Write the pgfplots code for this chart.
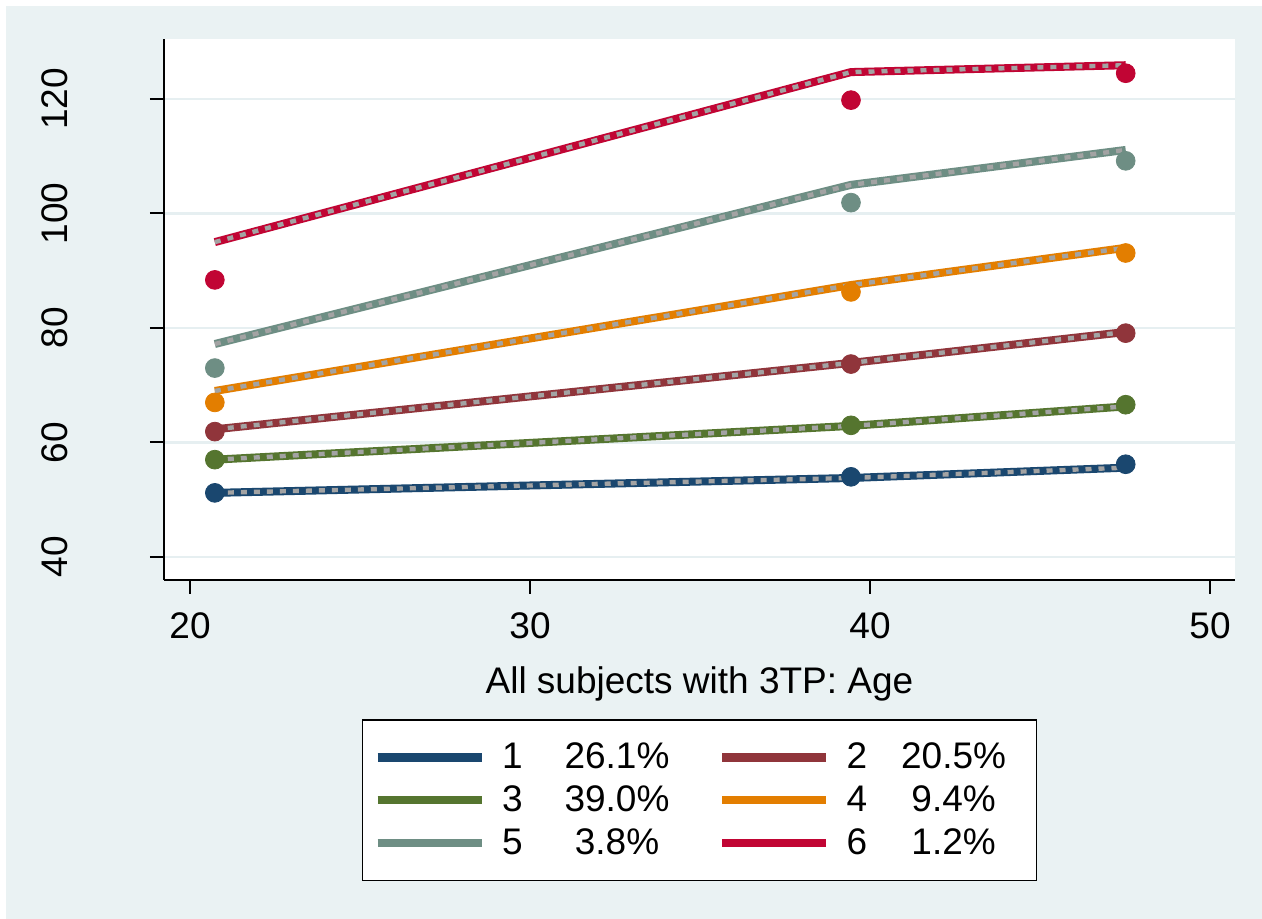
\documentclass[border=0pt]{standalone}
\usepackage{fontspec}
\setmainfont{Liberation Sans}
\usepackage{pgfplots}
\pgfplotsset{compat=1.18}
\definecolor{bgblue}{HTML}{EAF2F3}
\definecolor{gridc}{HTML}{E6EFF1}
\definecolor{cnavy}{HTML}{1A476F}
\definecolor{cmaroon}{HTML}{90353B}
\definecolor{cgreen}{HTML}{55752F}
\definecolor{corange}{HTML}{E37E00}
\definecolor{cteal}{HTML}{6E8E84}
\definecolor{cred}{HTML}{C10534}
\definecolor{dashgray}{HTML}{A3A3A3}
\newcommand{\bigf}{\fontsize{18.5}{22}\selectfont}
\newcommand{\ent}[4]{\makebox[#3][l]{#1}\makebox[#4][c]{#2}}
\begin{document}
\begin{tikzpicture}
\fill[white] (-82pt,-169.5pt) rectangle (549pt,290pt);
\fill[bgblue] (-79pt,-169.5pt) rectangle (549pt,287pt);
\begin{axis}[
  at={(0,0)}, anchor=south west,
  scale only axis, width=535.5pt, height=270.5pt,
  xmin=19.235, xmax=50.735, ymin=35.98, ymax=130.48,
  xtick={20,30,40,50}, ytick={40,60,80,100,120},
  axis x line*=bottom, axis y line*=left,
  axis line style={line width=1pt, black},
  tick align=outside, major tick length=7pt,
  tick style={line width=1pt, black},
  axis background/.style={fill=white},
  ymajorgrids, y grid style={gridc, line width=1.3pt},
  /pgf/number format/assume math mode=true,
  ticklabel style={font=\bigf},
  yticklabel style={rotate=90, anchor=south, yshift=37.5pt},
  xticklabel style={yshift=-6pt},
  xlabel={All subjects with 3TP: Age},
  xlabel style={font=\bigf, at={(axis description cs:0.5,0)}, anchor=north, yshift=-40pt},
  legend columns=2,
  legend cell align=left,
  legend image code/.code={\draw[#1, line width=4.3pt] (0pt,0pt) -- (52pt,0pt);},
  legend style={at={(0.5,-0.257)}, anchor=north, font=\bigf,
    draw=black, line width=0.8pt, fill=white,
    inner xsep=5.5pt, inner ysep=9pt,
    row sep=2pt,
    /tikz/every odd column/.append style={column sep=5.5pt},
    /tikz/every even column/.append style={column sep=10.5pt},
    nodes={inner sep=2.5pt}},
  clip=false,
]
% markers
\addplot[only marks, mark=*, mark size=4.7pt, cnavy, forget plot] coordinates {(20.73,51.2) (39.44,54.0) (47.52,56.2)};
\addplot[only marks, mark=*, mark size=4.7pt, cmaroon, forget plot] coordinates {(20.73,61.9) (39.44,73.7) (47.52,79.1)};
\addplot[only marks, mark=*, mark size=4.7pt, cgreen, forget plot] coordinates {(20.73,57.0) (39.44,63.0) (47.52,66.6)};
\addplot[only marks, mark=*, mark size=4.7pt, corange, forget plot] coordinates {(20.73,67.0) (39.44,86.3) (47.52,93.1)};
\addplot[only marks, mark=*, mark size=4.7pt, cteal, forget plot] coordinates {(20.73,73.0) (39.44,101.9) (47.52,109.2)};
\addplot[only marks, mark=*, mark size=4.7pt, cred, forget plot] coordinates {(20.73,88.4) (39.44,119.8) (47.52,124.5)};
% fitted lines
\addplot[cnavy, line width=4pt, no marks] coordinates {(20.73,51.2) (39.44,53.8) (47.52,55.6)};
\addlegendentry{\ent{1}{26.1\%}{20pt}{75pt}}
\addplot[cmaroon, line width=4pt, no marks] coordinates {(20.73,62.3) (39.44,73.9) (47.52,79.3)};
\addlegendentry{\ent{2}{20.5\%}{20pt}{67pt}}
\addplot[cgreen, line width=4pt, no marks] coordinates {(20.73,57.0) (39.44,62.9) (47.52,66.3)};
\addlegendentry{\ent{3}{39.0\%}{20pt}{75pt}}
\addplot[corange, line width=4pt, no marks] coordinates {(20.73,69.0) (39.44,87.5) (47.52,94.0)};
\addlegendentry{\ent{4}{9.4\%}{20pt}{67pt}}
\addplot[cteal, line width=4pt, no marks] coordinates {(20.73,77.2) (39.44,105.0) (47.52,111.1)};
\addlegendentry{\ent{5}{3.8\%}{20pt}{75pt}}
\addplot[cred, line width=4pt, no marks] coordinates {(20.73,95.0) (39.44,124.7) (47.52,125.9)};
\addlegendentry{\ent{6}{1.2\%}{20pt}{67pt}}
% dashed overlays
\addplot[dashgray, line width=2.2pt, dash pattern=on 3pt off 3.5pt, no marks, forget plot] coordinates {(20.73,51.2) (39.44,53.8) (47.52,55.6)};
\addplot[dashgray, line width=2.2pt, dash pattern=on 3pt off 3.5pt, no marks, forget plot] coordinates {(20.73,62.3) (39.44,73.9) (47.52,79.3)};
\addplot[dashgray, line width=2.2pt, dash pattern=on 3pt off 3.5pt, no marks, forget plot] coordinates {(20.73,57.0) (39.44,62.9) (47.52,66.3)};
\addplot[dashgray, line width=2.2pt, dash pattern=on 3pt off 3.5pt, no marks, forget plot] coordinates {(20.73,69.0) (39.44,87.5) (47.52,94.0)};
\addplot[dashgray, line width=2.2pt, dash pattern=on 3pt off 3.5pt, no marks, forget plot] coordinates {(20.73,77.2) (39.44,105.0) (47.52,111.1)};
\addplot[dashgray, line width=2.2pt, dash pattern=on 3pt off 3.5pt, no marks, forget plot] coordinates {(20.73,95.0) (39.44,124.7) (47.52,125.9)};
\end{axis}
\pgfresetboundingbox
\useasboundingbox (-82pt,-169.5pt) rectangle (549pt,290pt);
\end{tikzpicture}
\end{document}
